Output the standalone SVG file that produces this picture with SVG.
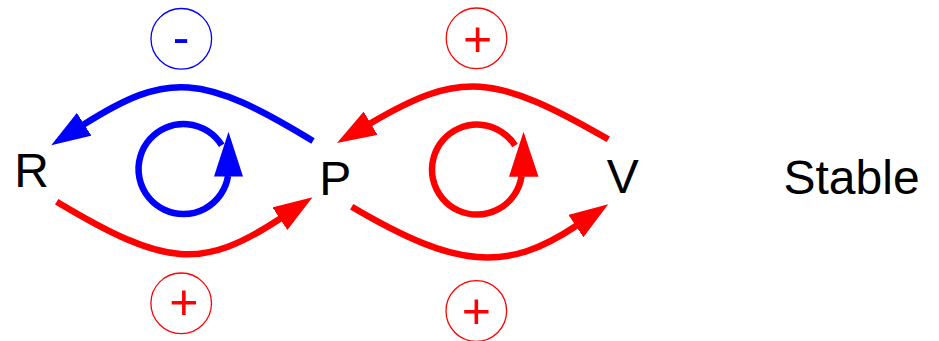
<svg xmlns="http://www.w3.org/2000/svg" width="939" height="341" viewBox="0 0 939 341">
  <style>
    .lbl { font-family: "Liberation Sans", Arial, sans-serif; font-size: 48px; fill: #000; }
    .sign { font-family: "Liberation Sans", Arial, sans-serif; font-size: 50px; text-anchor: middle; }
    .ring { fill: none; stroke-width: 1.3; }
    .arc { fill: none; stroke-width: 6.5; }
    .blue { stroke: #0000ff; }
    .red { stroke: #ff0000; }
  </style>
  <defs>
    <marker id="ahBlue" markerUnits="userSpaceOnUse" viewBox="0 0 40 27" markerWidth="40" markerHeight="27" refX="1" refY="13.5" orient="auto">
      <path d="M0,0 L39,13.5 L0,27 Z" fill="#0000ff"/>
    </marker>
    <marker id="ahRed" markerUnits="userSpaceOnUse" viewBox="0 0 40 27" markerWidth="40" markerHeight="27" refX="1" refY="13.5" orient="auto">
      <path d="M0,0 L39,13.5 L0,27 Z" fill="#ff0000"/>
    </marker>
  </defs>

  <g id="node-R"><text class="lbl" x="14.2" y="187">R</text></g>
  <g id="node-P"><text class="lbl" x="319.2" y="194.5">P</text></g>
  <g id="node-V"><text class="lbl" x="606.8" y="193">V</text></g>
  <g id="label-stable"><text class="lbl" x="783.5" y="193.5">Stable</text></g>

  <g id="sign-RP-top">
    <circle class="ring blue" cx="181.3" cy="38.8" r="30.3"/>
    <text class="sign" x="181.2" y="53.9" fill="#0000ff">-</text>
  </g>
  <g id="sign-PV-top">
    <circle class="ring red" cx="476.5" cy="38.3" r="30.3"/>
    <text class="sign" x="477.5" y="56" fill="#ff0000">+</text>
  </g>
  <g id="sign-RP-bottom">
    <circle class="ring red" cx="181.2" cy="303.3" r="30.3"/>
    <text class="sign" x="183.8" y="318.9" fill="#ff0000">+</text>
  </g>
  <g id="sign-PV-bottom">
    <circle class="ring red" cx="476.3" cy="311" r="30.3"/>
    <text class="sign" x="476.3" y="327.5" fill="#ff0000">+</text>
  </g>

  <g id="loop-RP">
    <path class="arc blue" d="M221.7,145.2 A45,45 0 1 0 228,176"/>
    <polygon points="214,176.5 243,176.5 228.5,131.7" fill="#0000ff"/>
  </g>
  <g id="loop-PV">
    <path class="arc red" d="M515,145.5 A45,45 0 1 0 521.5,176.2"/>
    <polygon points="509,176.7 538.5,176.7 523.5,131.7" fill="#ff0000"/>
  </g>

  <g id="connectors">
    <path class="arc blue" d="M313,141 C202.7,73.7 168.2,70.8 83.3,124.8" marker-end="url(#ahBlue)"/>
    <path class="arc red" d="M56.7,201.7 C166.2,267.4 202.1,270 280.8,218.2" marker-end="url(#ahRed)"/>
    <path class="arc red" d="M608.3,139.3 C493.7,72.9 459.6,70.7 369.7,123.7" marker-end="url(#ahRed)"/>
    <path class="arc red" d="M351.7,206.7 C456.7,268.6 506.2,272.8 576.7,225.5" marker-end="url(#ahRed)"/>
  </g>
</svg>
